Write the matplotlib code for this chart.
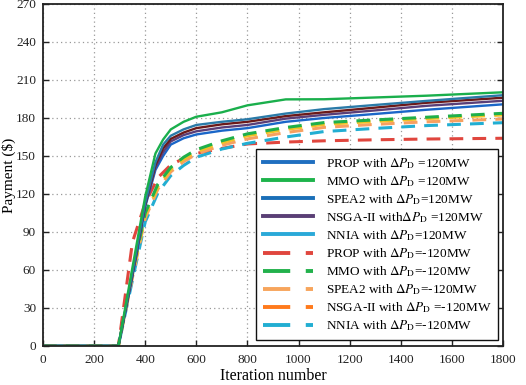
import matplotlib
matplotlib.use("Agg")
import matplotlib.pyplot as plt
from matplotlib.lines import Line2D

plt.rcParams['font.family'] = ['Liberation Serif', 'DejaVu Serif']
plt.rcParams['mathtext.fontset'] = 'stix'

# ---- data ----
iters_s = [0, 295, 350, 400, 440, 470, 500, 550, 600, 700, 800, 950, 1100, 1300, 1500, 1800]
mmo_pos = [0, 0, 62, 118, 152, 163, 171, 177, 181, 184.5, 190, 194.7, 194.8, 196.2, 197.6, 200.3]
spea2_pos = [0, 0, 58, 113, 145, 159, 166, 171, 174.5, 177, 179, 183.5, 187, 190.3, 193.5, 198]
nnia_pos = [0, 0, 57, 112, 143, 156, 163.5, 168.5, 172, 175, 177, 181.5, 184.5, 188.2, 192, 196]
nsga_pos = [0, 0, 56, 111, 141, 153, 161.5, 166.5, 169.5, 172.5, 174.5, 179.5, 182.5, 186, 189.6, 193.6]
prop_pos = [0, 0, 55, 110, 139, 150, 159, 164, 167, 170, 172, 177, 180, 183.2, 186.5, 190.8]

iters_d = [0, 295, 350, 400, 450, 500, 550, 600, 700, 800, 950, 1100, 1300, 1500, 1800]
prop_neg = [0, 0, 82, 113, 133, 143, 148, 152, 156, 159.5, 161, 162, 162.8, 163.4, 164]
mmo_neg = [0, 0, 58, 105, 128, 141, 149, 155, 162, 167.5, 172.5, 176.4, 178.5, 180.6, 183.7]
spea2_neg = [0, 0, 56, 103, 126, 139.5, 147.5, 153.5, 160.5, 166, 171, 175, 177.3, 179.5, 182.4]
nsga_neg = [0, 0, 54, 101, 124, 137.5, 145.5, 151.5, 158.5, 163.5, 168.5, 172.6, 175, 177, 179.2]
nnia_neg = [0, 0, 52, 98, 121, 134.5, 142.5, 149, 155.5, 160, 165, 169.3, 171.8, 174, 176.3]

legend_labels = [
    r"PROP with $\Delta P_{\rm D}$ =120MW",
    r"MMO with $\Delta P_{\rm D}$ =120MW",
    r"SPEA2 with $\Delta P_{\rm D}$=120MW",
    r"NSGA-II with$\Delta P_{\rm D}$ =120MW",
    r"NNIA with $\Delta P_{\rm D}$=120MW",
    r"PROP with $\Delta P_{\rm D}$=-120MW",
    r"MMO with $\Delta P_{\rm D}$=-120MW",
    r"SPEA2 with $\Delta P_{\rm D}$=-120MW",
    r"NSGA-II with $\Delta P_{\rm D}$ =-120MW",
    r"NNIA with $\Delta P_{\rm D}$=-120MW",
]
legend_colors = ['#1f6fc0', '#1db34b', '#1a6fb8', '#5a3f75', '#2aa9d8',
                 '#e0463e', '#22b14c', '#f7a55c', '#ff7a1c', '#22aed2']
legend_solid = [True] * 5 + [False] * 5

xticks = list(range(0, 1801, 200))
yticks = list(range(0, 271, 30))

# ---- figure ----
fig = plt.figure(figsize=(5.26, 3.85), dpi=100)
ax = fig.add_axes([43 / 526, 1 - 346 / 385, 460 / 526, 342 / 385])

ax.grid(True, linestyle=(0, (1, 2.5)), color='#999999', linewidth=0.9)
ax.set_axisbelow(True)

# dashed (-120MW)
dash_lw = 2.2
ax.plot(iters_d, prop_neg, color='#e0463e', lw=dash_lw, linestyle=(0, (4.5, 3)))
ax.plot(iters_d, nnia_neg, color='#22aed2', lw=dash_lw, linestyle=(3, (4.5, 3)))
ax.plot(iters_d, nsga_neg, color='#f7a060', lw=dash_lw, linestyle=(1, (4.5, 3)))
ax.plot(iters_d, spea2_neg, color='#f2c126', lw=dash_lw, linestyle=(0.5, (4.5, 3)))
ax.plot(iters_d, mmo_neg, color='#1fb04a', lw=dash_lw, linestyle=(0, (4.5, 3)))

# solid (+120MW)
sol_lw = 1.7
ax.plot(iters_s, prop_pos, color='#1a66c8', lw=sol_lw)
ax.plot(iters_s, nsga_pos, color='#5a3f78', lw=sol_lw)
ax.plot(iters_s, nnia_pos, color='#6b1a1a', lw=sol_lw)
ax.plot(iters_s, spea2_pos, color='#2a7aa8', lw=sol_lw)
ax.plot(iters_s, mmo_pos, color='#1aaf4c', lw=sol_lw)

ax.set_xlim(0, 1800)
ax.set_ylim(0, 270)
ax.set_xticks(xticks)
ax.set_yticks(yticks)
ax.tick_params(direction='in', top=False, right=True, labelsize=9.5,
               length=4, width=1.0, colors='#222222', pad=5)
ax.tick_params(axis='x', pad=6)
for s in ax.spines.values():
    s.set_linewidth(1.3)
    s.set_color('#222222')

ax.set_xlabel('Iteration number', fontsize=11.5, labelpad=1)
ax.set_ylabel('Payment ($)', fontsize=11, labelpad=0)

handles = []
for c, solid in zip(legend_colors, legend_solid):
    if solid:
        handles.append(Line2D([], [], color=c, lw=2.8))
    else:
        handles.append(Line2D([], [], color=c, lw=2.8, dashes=(7, 4)))
leg = ax.legend(handles, legend_labels, loc='lower right',
                bbox_to_anchor=((498 - 43) / 460, (346 - 340) / 342),
                borderaxespad=0, fontsize=9.5, frameon=True, fancybox=False,
                handlelength=3.8, handletextpad=1.0, labelspacing=0.25,
                borderpad=0.5)
leg.get_frame().set_edgecolor('#111111')
leg.get_frame().set_linewidth(1.0)
leg.get_frame().set_alpha(1)

fig.savefig('out.png', dpi=100)
